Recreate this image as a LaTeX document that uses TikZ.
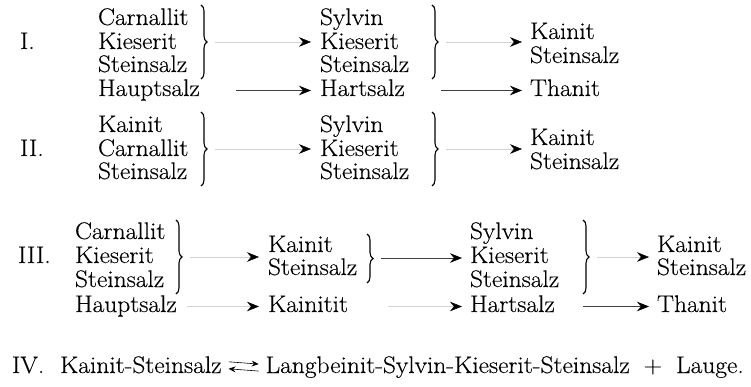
\documentclass[tikz,border=0pt]{standalone}
\usepackage{fontspec}
\setmainfont{Latin Modern Roman}[FakeStretch=1.06,FakeBold=0.3]
\usetikzlibrary{arrows.meta,decorations.pathreplacing}
\begin{document}
\begin{tikzpicture}[x=1pt,y=-1pt,
  every node/.style={inner sep=0pt,outer sep=0pt,font=\fontsize{24}{24}\selectfont},
  w/.style={anchor=base west,text height=16pt,text depth=5pt},
  lbl/.style={anchor=base west},
  brc/.style={decorate,decoration={brace,amplitude=6pt},line width=1.1pt},
  hd/.style={-{Stealth[length=12pt,width=9.5pt,inset=4pt,color=black]}},
  farrow/.style={hd,draw=gray!35,line width=0.5pt},
  sarrow/.style={hd,draw=black!75,line width=0.6pt},
  dbl/.style={line width=0.6pt,-{Stealth[length=7pt,width=6pt,inset=2.5pt]}}
]
\useasboundingbox (0,0) rectangle (751,387);

% ---------- I ----------
\node[lbl] (r1) at (20,49) {I.};
\node[w] (a1) at (98,25) {Carnallit};
\node[w] (a2) at (98,49) {Kieserit};
\node[w] (a3) at (98,72) {Steinsalz};
\node[w] (a4) at (98,96) {Hauptsalz};
\coordinate (b1t) at (201,5); \coordinate (b1b) at (201,79);
\draw[brc] (b1t) -- (b1b);
\coordinate (t1) at (215,42);
\node[w] (b1) at (320,25) {Sylvin};
\node[w] (b2) at (320,49) {Kieserit};
\node[w] (b3) at (320,72) {Steinsalz};
\node[w] (b4) at (320,96) {Hartsalz};
\coordinate (b2t) at (432,5); \coordinate (b2b) at (432,79);
\draw[brc] (b2t) -- (b2b);
\coordinate (t2) at (446,42);
\node[w] (c1) at (530,39) {Kainit};
\node[w] (c2) at (530,63) {Steinsalz};
\node[w] (c3) at (530,96) {Thanit};
\draw[farrow,shorten >=9pt] (t1) -- (t1 -| b2.west);
\draw[farrow,shorten >=8pt] (t2) -- (t2 -| c1.west);
\draw[sarrow,shorten <=36pt,shorten >=9pt] (a4.east) -- (b4.west);
\draw[sarrow,shorten <=36pt,shorten >=8pt] (b4.east) -- (c3.west);

% ---------- II ----------
\node[lbl] (r2) at (20,156) {II.};
\node[w] (d1) at (98,132) {Kainit};
\node[w] (d2) at (98,156) {Carnallit};
\node[w] (d3) at (98,179) {Steinsalz};
\coordinate (b3t) at (201,112); \coordinate (b3b) at (201,186);
\draw[brc] (b3t) -- (b3b);
\coordinate (t3) at (215,149);
\node[w] (e1) at (320,132) {Sylvin};
\node[w] (e2) at (320,156) {Kieserit};
\node[w] (e3) at (320,179) {Steinsalz};
\coordinate (b4t) at (432,112); \coordinate (b4b) at (432,186);
\draw[brc] (b4t) -- (b4b);
\coordinate (t4) at (446,149);
\node[w] (f1) at (530,145) {Kainit};
\node[w] (f2) at (530,169) {Steinsalz};
\draw[farrow,shorten >=9pt] (t3) -- (t3 -| e2.west);
\draw[farrow,shorten >=8pt] (t4) -- (t4 -| f1.west);

% ---------- III ----------
\node[lbl] (r3) at (18,263) {III.};
\node[w] (g1) at (75,239) {Carnallit};
\node[w] (g2) at (75,263) {Kieserit};
\node[w] (g3) at (75,287) {Steinsalz};
\node[w] (g4) at (75,312) {Hauptsalz};
\coordinate (b5t) at (176,220); \coordinate (b5b) at (176,294);
\draw[brc] (b5t) -- (b5b);
\coordinate (t5) at (190,257);
\node[w] (h1) at (268,252) {Kainit};
\node[w] (h2) at (268,275) {Steinsalz};
\node[w] (h3) at (268,312) {Kainitit};
\coordinate (b6t) at (367,234); \coordinate (b6b) at (367,283);
\draw[brc] (b6t) -- (b6b);
\coordinate (t6) at (381,258);
\node[w] (i1) at (470,239) {Sylvin};
\node[w] (i2) at (470,263) {Kieserit};
\node[w] (i3) at (470,287) {Steinsalz};
\node[w] (i4) at (470,312) {Hartsalz};
\coordinate (b7t) at (583,220); \coordinate (b7b) at (583,294);
\draw[brc] (b7t) -- (b7b);
\coordinate (t7) at (597,257);
\node[w] (j1) at (657,252) {Kainit};
\node[w] (j2) at (657,275) {Steinsalz};
\node[w] (j3) at (657,312) {Thanit};
\draw[farrow,shorten >=9pt] (t5) -- (t5 -| h1.west);
\draw[sarrow,shorten >=8pt] (t6) -- (t6 -| i2.west);
\draw[farrow,shorten >=8pt] (t7) -- (t7 -| j1.west);
\draw[farrow,shorten <=10pt,shorten >=9pt] (g4.east) -- (h3.west);
\draw[farrow,shorten <=40pt,shorten >=8pt] (h3.east) -- (i4.west);
\draw[sarrow,shorten <=28pt,shorten >=8pt] (i4.east) -- (j3.west);

% ---------- IV ----------
\node[lbl] (k0) at (12,373) {IV.};
\node[lbl] (k1) at (60,373) {Kainit-Steinsalz};
\node[lbl] (k2) at ([xshift=44pt]k1.base east) {Langbeinit-Sylvin-Kieserit-Steinsalz\hspace{14pt}+\hspace{14pt}Lauge.};
\coordinate (u1) at ([xshift=7pt,yshift=3pt]k1.east);
\coordinate (u2) at ([xshift=-7pt,yshift=3pt]k2.west);
\coordinate (l1) at ([xshift=7pt,yshift=-4pt]k1.east);
\coordinate (l2) at ([xshift=-7pt,yshift=-4pt]k2.west);
\draw[dbl] (u1) -- (u2);
\draw[dbl] (l2) -- (l1);
\end{tikzpicture}
\end{document}
